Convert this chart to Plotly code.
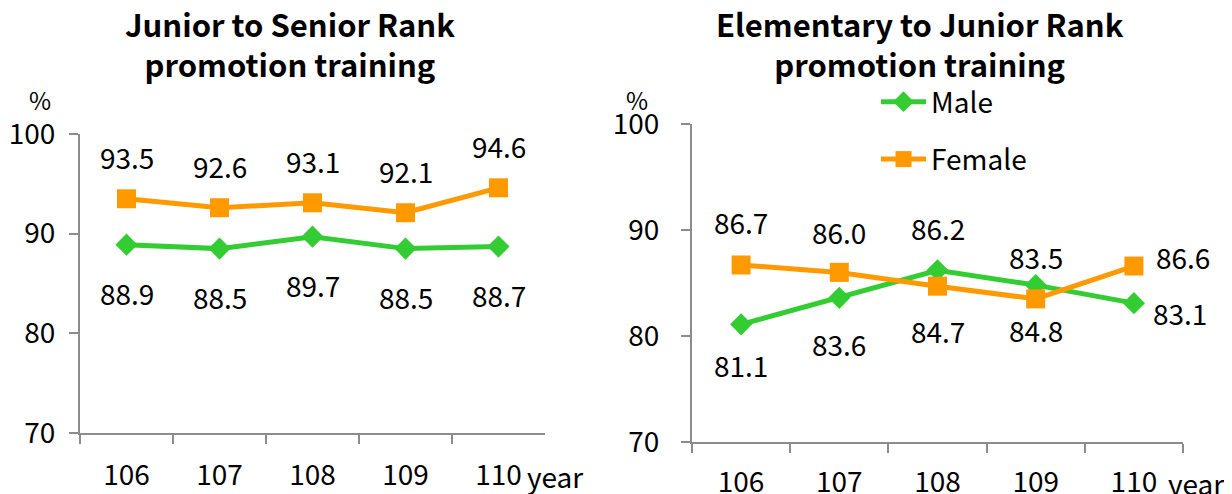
import plotly.graph_objects as go

# data
years = ["106", "107", "108", "109", "110"]
senior_male = [88.9, 88.5, 89.7, 88.5, 88.7]
senior_female = [93.5, 92.6, 93.1, 92.1, 94.6]
junior_male = [81.1, 83.6, 86.2, 84.8, 83.1]
junior_female = [86.7, 86.0, 84.7, 83.5, 86.6]
y_ticks = [70, 80, 90, 100]

GREEN = "#33CC33"
ORANGE = "#FF9900"
AXIS = "#8C8C8C"
FONT = "Noto Sans CJK TC"
W, H = 1232, 494
PAGE = 8  # page body margin


def px(x):
    return (x - PAGE) / W


def py(y):
    return 1 - (y - PAGE) / H


fig = go.Figure()


def add_pair(male, female, xa, ya, legend):
    fig.add_trace(go.Scatter(
        x=years, y=male, name="Male", xaxis=xa, yaxis=ya,
        mode="lines+markers", showlegend=legend, legendgroup="m",
        line=dict(color=GREEN, width=5),
        marker=dict(symbol="diamond", size=17, color=GREEN)))
    fig.add_trace(go.Scatter(
        x=years, y=female, name="Female", xaxis=xa, yaxis=ya,
        mode="lines+markers", showlegend=legend, legendgroup="f",
        line=dict(color=ORANGE, width=5),
        marker=dict(symbol="square", size=19, color=ORANGE)))


add_pair(senior_male, senior_female, "x", "y", False)
add_pair(junior_male, junior_female, "x2", "y2", True)

# value labels: (xshift, yshift) per point
senior_m_off = [(0, -48)] * 5
senior_f_off = [(0, 42)] * 5
junior_m_off = [(0, -41), (0, -46), (0, 42), (0, -45), (46, -10)]
junior_f_off = [(0, 43), (0, 40), (0, -45), (0, 42), (49, 9)]


def add_labels(vals, offs, xr, yr):
    # category axis: annotation x is the category position
    for i, (v, (dx, dy)) in enumerate(zip(vals, offs)):
        fig.add_annotation(x=i, y=v, xref=xr, yref=yr, text=f"{v:.1f}",
                           showarrow=False, xshift=dx, yshift=dy,
                           xanchor="center", yanchor="middle",
                           font=dict(size=28, color="black", family=FONT))


add_labels(senior_male, senior_m_off, "x", "y")
add_labels(senior_female, senior_f_off, "x", "y")
add_labels(junior_male, junior_m_off, "x2", "y2")
add_labels(junior_female, junior_f_off, "x2", "y2")

axis_common = dict(showline=True, linecolor=AXIS, linewidth=2, ticks="outside",
                   tickcolor=AXIS, tickwidth=2, ticklen=9, showgrid=False,
                   zeroline=False, automargin=False,
                   tickfont=dict(size=28, color="black", family=FONT))

fig.update_layout(
    xaxis=dict(domain=[px(80), px(545)], anchor="y", type="category",
               range=[-0.5, 4.5], tickson="boundaries", ticklabelstandoff=16,
               **axis_common),
    yaxis=dict(domain=[py(433), py(134)], anchor="x", range=[70, 100],
               tickvals=y_ticks, ticklabelstandoff=8, **axis_common),
    xaxis2=dict(domain=[px(692), px(1183)], anchor="y2", type="category",
                range=[-0.5, 4.5], tickson="boundaries", ticklabelstandoff=14,
                **axis_common),
    yaxis2=dict(domain=[py(442), py(124)], anchor="x2", range=[70, 100],
                tickvals=y_ticks, ticklabelstandoff=16, **axis_common),
    width=W, height=H, margin=dict(l=0, r=0, t=0, b=0),
    paper_bgcolor="white", plot_bgcolor="white",
    font=dict(family=FONT, color="black"),
    legend=dict(x=px(876), y=py(77), xanchor="left", yanchor="top",
                font=dict(size=28, family=FONT), traceorder="grouped",
                tracegroupgap=18, itemwidth=45, bgcolor="rgba(0,0,0,0)"),
)

# titles and axis notes
for txt, cx in [("<b>Junior to Senior Rank<br>promotion training</b>", 290),
                ("<b>Elementary to Junior Rank<br>promotion training</b>", 920)]:
    fig.add_annotation(x=px(cx), y=py(-1), xref="paper", yref="paper",
                       xanchor="center", yanchor="top", text=txt, showarrow=False,
                       font=dict(size=31, family=FONT, color="black"))

for cx, cy in [(40, 100), (637, 100)]:
    fig.add_annotation(x=px(cx), y=py(cy), xref="paper", yref="paper",
                       xanchor="center", yanchor="middle",
                       text="%", showarrow=False,
                       font=dict(size=24, family=FONT, color="black"))

for lx, cy in [(525, 476), (1166, 483)]:
    fig.add_annotation(x=px(lx), y=py(cy), xref="paper", yref="paper",
                       xanchor="left", yanchor="middle", text="year",
                       showarrow=False,
                       font=dict(size=28, family=FONT, color="black"))

fig.write_html("out.html")
